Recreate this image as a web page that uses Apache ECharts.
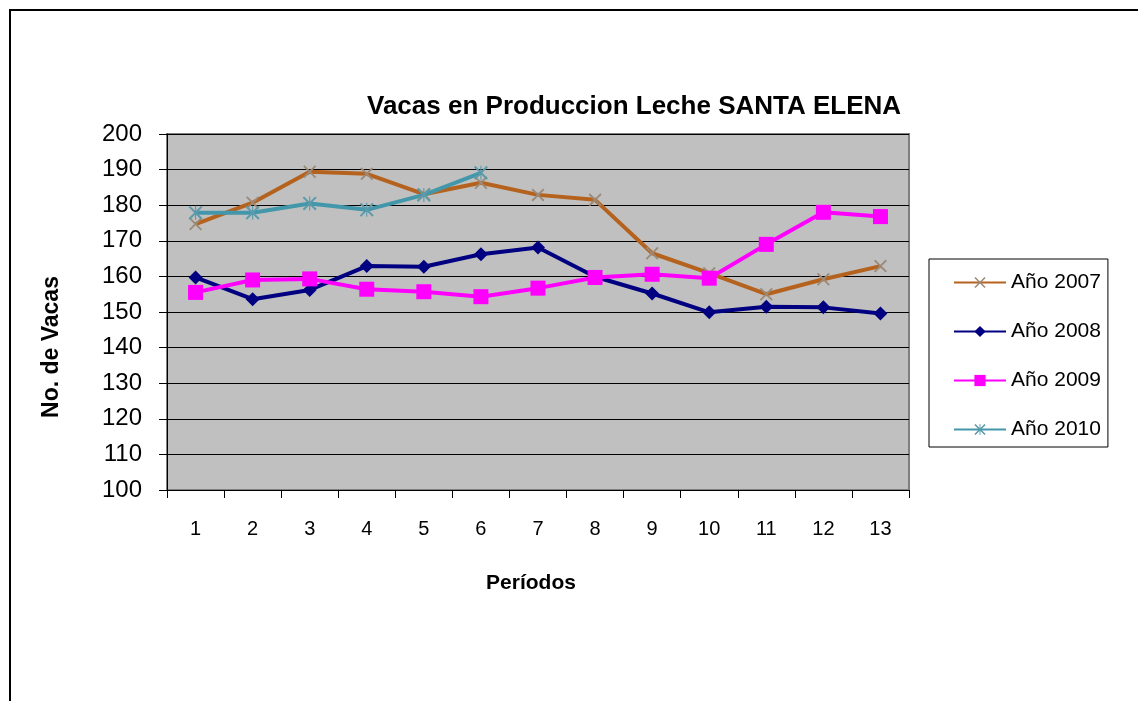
<!DOCTYPE html>
<html lang="es">

<head>
  <meta charset="UTF-8">
  <title>Vacas en Produccion</title>
  <style>
    body,
    html {
      margin: 0;
      padding: 0;
      background: #fff;
    }

    #chart {
      width: 1138px;
      height: 701px;
    }
  </style>
</head>

<body>
  <div id="chart"></div>
  <script src="https://cdn.jsdelivr.net/npm/echarts@6/dist/echarts.min.js"></script>
  <script>
    var periodos = ['1', '2', '3', '4', '5', '6', '7', '8', '9', '10', '11', '12', '13'];
    var ano2007 = [174.7, 180.7, 189.4, 188.8, 183.1, 186.3, 182.9, 181.5, 166.5, 160.9, 155.0, 159.2, 162.9];
    var ano2008 = [159.7, 153.6, 156.2, 162.9, 162.7, 166.2, 168.1, 159.9, 155.2, 149.9, 151.5, 151.3, 149.6];
    var ano2009 = [155.5, 159.0, 159.3, 156.4, 155.7, 154.3, 156.7, 159.7, 160.6, 159.5, 169.0, 178.0, 176.8];
    var ano2010 = [177.9, 177.9, 180.5, 178.7, 182.9, 189.1];
    var yTicks = { min: 100, max: 200, interval: 10 };

    var font = 'Liberation Sans, Arial, sans-serif';
    // X and asterisk markers as filled outlines
    var crossPath = 'path://M0,1L1,0L5,4L9,0L10,1L6,5L10,9L9,10L5,6L1,10L0,9L4,5Z';
    var starPath = 'path://M0,1L1,0L4.6,3.6L4.6,0L5.4,0L5.4,3.6L9,0L10,1L6,5L10,9L9,10L5.4,6.4L5.4,10L4.6,10L4.6,6.4L1,10L0,9L4,5Z';

    function lineSeries(name, data, color, symbol, size, symbolColor) {
      return {
        name: name,
        type: 'line',
        data: data,
        symbol: symbol,
        symbolSize: size,
        showAllSymbol: true,
        lineStyle: { color: color, width: 4 },
        itemStyle: { color: symbolColor || color },
        emphasis: { disabled: true }
      };
    }

    var myChart = echarts.init(document.getElementById('chart'));
    var option = {
      animation: false,
      title: {
        text: 'Vacas en Produccion Leche SANTA ELENA',
        left: 362,
        top: 89,
        textStyle: { fontFamily: font, fontSize: 26, fontWeight: 'bold', color: '#000' }
      },
      legend: {
        orient: 'vertical',
        left: 929,
        top: 259,
        padding: [13, 7, 7, 24],
        borderColor: '#000',
        borderWidth: 1,
        itemWidth: 52,
        itemHeight: 14,
        itemGap: 28,
        textStyle: { fontFamily: font, fontSize: 21, color: '#000' },
        data: ['Año 2007', 'Año 2008', 'Año 2009', 'Año 2010']
      },
      graphic: [
        { type: 'line', shape: { x1: 9, y1: 10, x2: 1138, y2: 10 }, style: { stroke: '#000', lineWidth: 2 } },
        { type: 'line', shape: { x1: 10, y1: 9, x2: 10, y2: 701 }, style: { stroke: '#000', lineWidth: 2 } },
        {
          type: 'text',
          x: 52,
          y: 347,
          rotation: Math.PI / 2,
          style: {
            text: 'No. de Vacas',
            align: 'center',
            verticalAlign: 'middle',
            font: 'bold 23px ' + font,
            fill: '#000'
          }
        }
      ],
      grid: {
        left: 167,
        right: 229,
        top: 134,
        bottom: 211,
        show: true,
        backgroundColor: '#C0C0C0',
        borderColor: '#808080',
        borderWidth: 2
      },
      xAxis: {
        type: 'category',
        data: periodos,
        boundaryGap: true,
        name: 'Períodos',
        nameLocation: 'middle',
        nameGap: 83,
        nameTextStyle: { fontFamily: font, fontSize: 21, fontWeight: 'bold', color: '#000', padding: [0, 14, 0, 0] },
        axisLine: { lineStyle: { color: '#000', width: 1 } },
        axisTick: { show: true, interval: 0, length: 8, lineStyle: { color: '#000' } },
        axisLabel: { margin: 29, fontFamily: font, fontSize: 20, color: '#000' }
      },
      yAxis: {
        type: 'value',
        min: yTicks.min,
        max: yTicks.max,
        interval: yTicks.interval,
        axisLine: { show: true, lineStyle: { color: '#000', width: 1 } },
        axisTick: { show: true, length: 8, lineStyle: { color: '#000' } },
        axisLabel: { margin: 25, fontFamily: font, fontSize: 24, color: '#000' },
        splitLine: { lineStyle: { color: '#000', width: 1 } }
      },
      series: [
        lineSeries('Año 2007', ano2007, '#B5621E', crossPath, 13, '#9C8A78'),
        lineSeries('Año 2008', ano2008, '#000080', 'diamond', 14),
        lineSeries('Año 2009', ano2009, '#FF00FF', 'rect', 15),
        lineSeries('Año 2010', ano2010, '#4397AA', starPath, 14, '#5A9AAA')
      ]
    };
    myChart.setOption(option);
  </script>
</body>

</html>
